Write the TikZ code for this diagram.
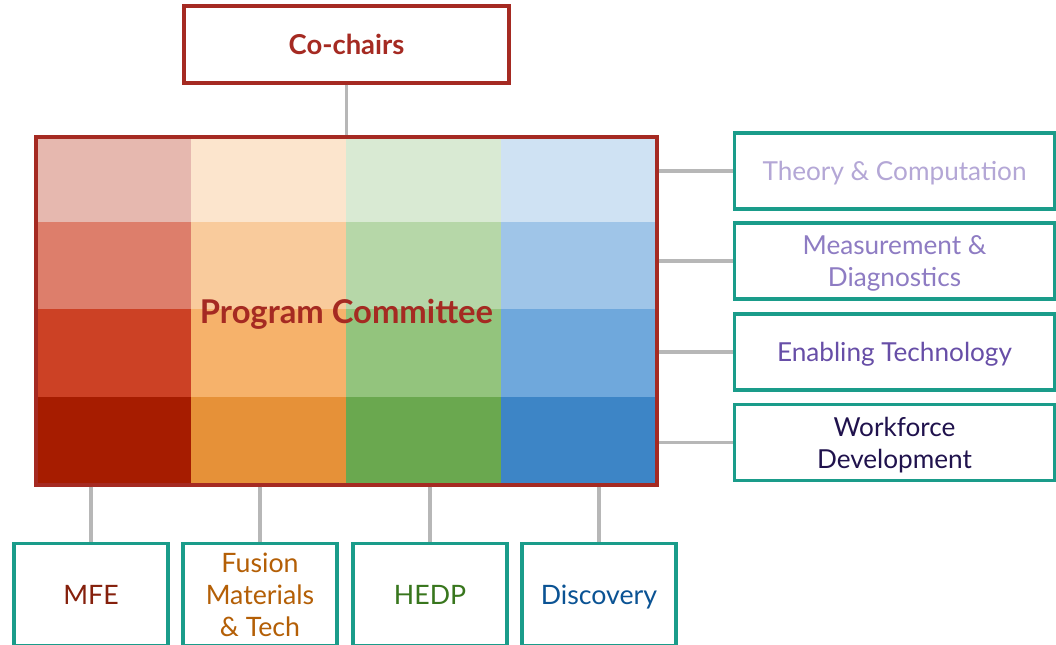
\documentclass[tikz,border=0pt]{standalone}
\usepackage{fontspec}
\setmainfont{Lato}
\usetikzlibrary{positioning}
\definecolor{chairred}{HTML}{A52A22}
\definecolor{boxteal}{HTML}{1A9C8A}
\definecolor{linkgrey}{HTML}{B7B7B7}
\definecolor{thcolor}{HTML}{B4A7D6}
\definecolor{mdcolor}{HTML}{8E7CC3}
\definecolor{etcolor}{HTML}{674EA7}
\definecolor{wdcolor}{HTML}{20124D}
\definecolor{mfecolor}{HTML}{85200C}
\definecolor{fmcolor}{HTML}{B45F06}
\definecolor{hedpcolor}{HTML}{38761D}
\definecolor{dscolor}{HTML}{0B5394}
\tikzset{
  redbox/.style={draw=chairred,line width=2.4pt,rectangle,inner sep=0pt,text depth=0pt},
  areabox/.style={draw=boxteal,line width=2.4pt,fill=white,rectangle,inner sep=0pt,text depth=0pt,
    align=center,font=\fontsize{18.6}{22.8}\selectfont,minimum width=8cm,minimum height=1.9cm},
  topicbox/.style={areabox,font=\fontsize{19}{22.8}\selectfont,minimum width=3.85cm,minimum height=2.55cm},
  link/.style={draw=linkgrey,line width=2.4pt}
}

\begin{document}
\begin{tikzpicture}[x=0.025cm,y=-0.025cm]
\useasboundingbox (0,0) rectangle (1056,644);
% colour grid of the committee
\foreach \c/\i in {E6B8AF/0,FCE5CD/1,D9EAD3/2,CFE2F3/3}
  {\definecolor{cell}{HTML}{\c}\fill[cell] (36+155*\i,137) rectangle +(155,85);}
\foreach \c/\i in {DD7E6B/0,F9CB9C/1,B6D7A8/2,9FC5E8/3}
  {\definecolor{cell}{HTML}{\c}\fill[cell] (36+155*\i,222) rectangle +(155,87);}
\foreach \c/\i in {CC4125/0,F6B26B/1,93C47D/2,6FA8DC/3}
  {\definecolor{cell}{HTML}{\c}\fill[cell] (36+155*\i,309) rectangle +(155,88);}
\foreach \c/\i in {A61C00/0,E69138/1,6AA84F/2,3D85C6/3}
  {\definecolor{cell}{HTML}{\c}\fill[cell] (36+155*\i,397) rectangle +(155,88);}
\node[redbox,minimum width=15.525cm,minimum height=8.7cm,text=chairred,
  font=\fontsize{23.3}{26}\selectfont\bfseries] (pc) at (346.5,311) {Program Committee};
\node[redbox,fill=white,minimum width=8.125cm,minimum height=1.925cm,text=chairred,
  font=\fontsize{19.5}{22}\selectfont\bfseries] (chairs) at (346.5,44.5) {Co-chairs};
% side areas
\node[areabox,text=thcolor] (theory) at (894.5,171) {Theory \& Computation};
\node[areabox,text=mdcolor] (meas) at (894.5,261) {Measurement \&\\Diagnostics};
\node[areabox,text=etcolor] (enab) at (894.5,352) {Enabling Technology};
\node[areabox,text=wdcolor] (work) at (894.5,442.5) {Workforce\\Development};
% topics below
\node[topicbox,text=mfecolor,anchor=north] (mfe) at (91,542) {MFE};
\node[topicbox,text=fmcolor,anchor=north] (fmt) at (260,542) {Fusion\\Materials\\\& Tech};
\node[topicbox,text=hedpcolor,anchor=north] (hedp) at (430,542) {HEDP};
\node[topicbox,text=dscolor,anchor=north] (disc) at (599,542) {Discovery};
\draw[link] (chairs.south) -- (pc.north);
\draw[link] (pc.east |- theory.west) -- (theory.west);
\draw[link] (pc.east |- meas.west) -- (meas.west);
\draw[link] (pc.east |- enab.west) -- (enab.west);
\draw[link] (pc.east |- work.west) -- (work.west);
\draw[link] (mfe.north |- pc.south) -- (mfe.north);
\draw[link] (fmt.north |- pc.south) -- (fmt.north);
\draw[link] (hedp.north |- pc.south) -- (hedp.north);
\draw[link] (disc.north |- pc.south) -- (disc.north);
\end{tikzpicture}
\end{document}
